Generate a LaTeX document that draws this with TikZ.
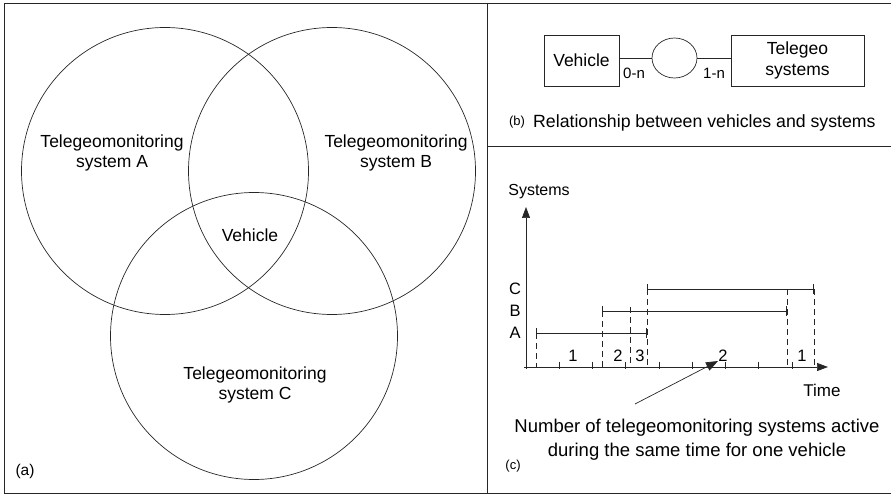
\documentclass[tikz,border=0pt]{standalone}
\usepackage{fontspec}
\setmainfont{Liberation Sans}
\usetikzlibrary{arrows.meta,shapes.geometric,calc}

\tikzset{
  ink/.style={line width=0.7pt, draw=black!85},
  txt/.style={inner sep=0pt, font=\fontsize{17.5}{20.5}\selectfont, align=center},
  small/.style={inner sep=0pt, font=\fontsize{13}{15}\selectfont},
  venn/.style={ink, circle, minimum size=287pt, inner sep=0pt},
  entity/.style={ink, rectangle, inner sep=0pt},
  bar/.style={ink, {Bar[width=10pt]}-{Bar[width=10pt]}},
  guide/.style={ink, dash pattern=on 6pt off 4pt},
  axis/.style={ink, -{Triangle[length=11pt,width=8pt]}},
  tickmark/.style={ink},
}

\begin{document}
\begin{tikzpicture}[x=1pt,y=-1pt]
\useasboundingbox (0,0) rectangle (891,494);

% frame and panel dividers
\draw[ink] (891,3) -- (4,3) -- (4,493) -- (891,493);
\draw[ink] (487,3) -- (487,493);
\draw[ink] (487,146) -- (891,146);

% (a) Venn diagram
\node[venn] (ca) at (165,171) {};
\node[venn] (cb) at (332,171) {};
\node[venn] (cc) at (254,336) {};
\node[txt] (ta) at (112,153) {Telegeomonitoring\\system A};
\node[txt] (tb) at (396,153) {Telegeomonitoring\\system B};
\node[txt] (tc) at (255,385) {Telegeomonitoring\\system C};
\node[txt] (veh) at (250,235) {Vehicle};
\node[inner sep=0pt, font=\fontsize{15.5}{18}\selectfont] (la) at (25,471) {(a)};

% (b) entity relationship
\node[entity, minimum width=75pt, minimum height=51pt, txt] (bveh) at (581.5,60.5) {Vehicle};
\node[ink, ellipse, minimum width=45pt, minimum height=40pt, inner sep=0pt] (rel) at (674.5,58) {};
\node[entity, minimum width=133pt, minimum height=51pt, txt] (bsys) at (797.5,60.5) {Telegeo\\systems};
\draw[ink] (rel.west) -- (rel.west -| bveh.east);
\draw[ink] (rel.east) -- (rel.east -| bsys.west);
\node[txt, font=\fontsize{15}{18}\selectfont] (m1) at (634,73) {0-n};
\node[txt, font=\fontsize{15}{18}\selectfont] (m2) at (714,73) {1-n};
\node[small] (lb) at (517,122) {(b)};
\node[txt, anchor=west, font=\fontsize{17.7}{20}\selectfont] (capb) at (533,123) {Relationship between vehicles and systems};

% (c) time chart
\coordinate (O) at (526,367);
\coordinate (ytop) at (526,207);
\coordinate (xend) at (828,367);
\draw[axis] (O) -- (ytop);
\draw[axis] (524,367) -- (xend);
\foreach \k in {0,...,8}
  \draw[tickmark] ($(O)+(33.25*\k,-5)$) -- ($(O)+(33.25*\k,2)$);

\node[txt, font=\fontsize{16}{18}\selectfont] (sys) at (539,192) {Systems};
\node[txt, font=\fontsize{17}{19}\selectfont] (time) at (822,390) {Time};

\node[txt, font=\fontsize{16.5}{18}\selectfont] (rc) at (515,289) {C};
\node[txt, font=\fontsize{16.5}{18}\selectfont] (rb) at (515,311) {B};
\node[txt, font=\fontsize{16.5}{18}\selectfont] (ra) at (515,333) {A};

\coordinate (a0) at (536,333); \coordinate (a1) at (647,333);
\coordinate (b0) at (602,311); \coordinate (b1) at (787,311);
\coordinate (c0) at (647,289); \coordinate (c1) at (814,289);
\draw[bar] (a0) -- (a1);
\draw[bar] (b0) -- (b1);
\draw[bar] (c0) -- (c1);

\draw[guide] (a0) -- (a0 |- O);
\draw[guide] (b0) -- (b0 |- O);
\draw[guide] (630,307) -- (630,367);
\draw[guide] (c0) -- (c0 |- O);
\draw[guide] (787,289) -- (787,367);
\draw[guide] (c1) -- (c1 |- O);

\node[txt, font=\fontsize{16.5}{18}\selectfont] (n1) at (573,356) {1};
\node[txt, font=\fontsize{16.5}{18}\selectfont] (n2) at (618,356) {2};
\node[txt, font=\fontsize{16.5}{18}\selectfont] (n3) at (640,356) {3};
\node[txt, font=\fontsize{16.5}{18}\selectfont] (n4) at (723,356) {2};
\node[txt, font=\fontsize{16.5}{18}\selectfont] (n5) at (802,356) {1};

\node[txt, font=\fontsize{18.5}{24}\selectfont] (capc) at (697,440) {Number of telegeomonitoring systems active\\during the same time for one vehicle};
\coordinate (ptail) at (635,404);
\coordinate (ptip) at (718,361);
\draw[ink, -{Triangle[length=12pt,width=9pt]}] (ptail) -- (ptip);
\node[small] (lc) at (513,466) {(c)};
\end{tikzpicture}
\end{document}
